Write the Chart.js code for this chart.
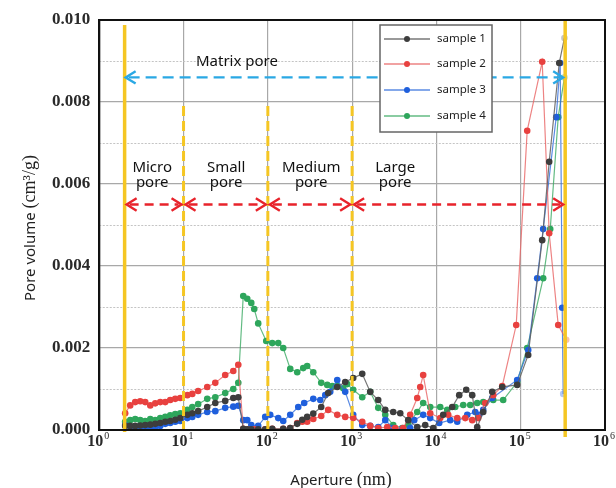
<!DOCTYPE html>
<html>
<head>
<meta charset="utf-8">
<script src="https://cdn.jsdelivr.net/npm/chart.js@4.4.0/dist/chart.umd.min.js"></script>
<style>
  html, body { margin: 0; padding: 0; background: #fff; }
  #wrap { width: 616px; height: 488px; }
</style>
</head>
<body>
<div id="wrap"><canvas id="poreChart" width="616" height="488"></canvas></div>
<script>
// aperture (nm), pore volume (cm3/g)
const sample1 = [[2.03,0.0001],[2.33,0.0001],[2.67,0.0001],[3.06,0.00011],[3.51,0.00012],[4.03,0.00013],[4.62,0.00015],[5.29,0.00017],[6.07,0.0002],[6.95,0.00022],[7.97,0.00025],[9.14,0.00029],[11.1,0.00037],[12.7,0.00041],[14.9,0.00046],[19.1,0.00056],[23.8,0.00066],[31.2,0.00071],[38.9,0.00078],[44.6,0.0008],[51.1,0.00003],[57,0.00002],[63.6,0.00002],[76.9,0.00002],[93.1,0.00002],[112.8,0.00003],[152.3,0.00003],[184.4,0.00005],[223,0.00015],[256,0.00025],[293,0.00032],[346,0.0004],[430,0.00056],[520,0.0009],[666,0.00105],[828,0.00117],[1030,0.00127],[1318,0.00137],[1640,0.00093],[2040,0.00073],[2472,0.00049],[3073,0.00044],[3722,0.00041],[4628,0.00024],[5920,0.00007],[7364,0.00012],[9160,0.00005],[12040,0.00037],[15390,0.00056],[18640,0.00085],[22590,0.00098],[26610,0.00085],[30490,0.00007],[35920,0.00044],[45920,0.00093],[60390,0.00105],[90800,0.0011],[122700,0.00183],[179900,0.00463],[217800,0.00654],[286400,0.00895],[330000,0.00956]];
const sample2 = [[2.03,0.00041],[2.33,0.0006],[2.67,0.00068],[3.06,0.0007],[3.51,0.00068],[4.03,0.0006],[4.62,0.00065],[5.29,0.00068],[6.07,0.00068],[6.95,0.00073],[7.97,0.00076],[9.14,0.00078],[11.1,0.00085],[12.7,0.00088],[14.9,0.00095],[19.1,0.00105],[23.8,0.00115],[31.2,0.00134],[38.9,0.00144],[44.6,0.00159],[51.1,0.00003],[57,0.00002],[69,0.00002],[93,0.00002],[112.8,0.00003],[152,0.00003],[184,0.00005],[223,0.00017],[256,0.0002],[293,0.0002],[346,0.00027],[430,0.00034],[520,0.00049],[666,0.00037],[828,0.00032],[1030,0.00029],[1318,0.0002],[1640,0.0001],[2040,0.00005],[2608,0.00007],[3245,0.00005],[4035,0.00005],[4885,0.00037],[5920,0.00078],[6426,0.00105],[6968,0.00134],[8441,0.00041],[11090,0.00029],[13800,0.00037],[17660,0.00029],[21980,0.00029],[26610,0.00024],[31340,0.00029],[37940,0.00066],[47200,0.00085],[60390,0.00107],[88460,0.00256],[119400,0.0073],[179900,0.00898],[217800,0.0048],[278600,0.00256],[346700,0.0022]];
const sample3 = [[2.03,0.00012],[2.33,0.00008],[2.67,0.00006],[3.06,0.00005],[3.51,0.00005],[4.03,0.00006],[4.62,0.00008],[5.29,0.0001],[6.07,0.00015],[6.95,0.00017],[7.97,0.0002],[9.14,0.00022],[11.1,0.00029],[12.7,0.00032],[14.9,0.00037],[19.1,0.00044],[23.8,0.00046],[31.2,0.00054],[38.9,0.00057],[44.6,0.00059],[51.1,0.00024],[57,0.00024],[63.6,0.00012],[76.9,0.0001],[93.1,0.00032],[106.7,0.00037],[132.9,0.00029],[152.3,0.00022],[184.4,0.00037],[229.5,0.00056],[270,0.00066],[346,0.00076],[419,0.00073],[480,0.00085],[550,0.00093],[666,0.00122],[828,0.00093],[1030,0.00037],[1318,0.00012],[1640,0.0001],[2040,0.00007],[2472,0.00024],[3073,0.00005],[3930,0.00003],[4885,0.00005],[5452,0.00024],[6968,0.00037],[8441,0.00029],[10790,0.00017],[14590,0.00024],[17660,0.0002],[23220,0.00037],[28860,0.00044],[32200,0.00037],[35920,0.00049],[45920,0.00078],[90800,0.00122],[122700,0.00195],[156900,0.0037],[184800,0.0049],[263700,0.00763],[294300,0.00895],[310600,0.00298],[319300,0.00088]];
const sample4 = [[2.03,0.0002],[2.33,0.00024],[2.67,0.00027],[3.06,0.00024],[3.51,0.00022],[4.03,0.00027],[4.62,0.00024],[5.29,0.00029],[6.07,0.00032],[6.95,0.00036],[7.97,0.00039],[9.14,0.00041],[11.1,0.00049],[12.7,0.00056],[14.9,0.00063],[19.1,0.00076],[23.8,0.0008],[31.2,0.0009],[38.9,0.001],[44.6,0.00115],[51.1,0.00327],[57,0.0032],[63.6,0.0031],[69,0.00295],[76.9,0.0026],[95.7,0.00217],[112.8,0.00212],[132.9,0.00212],[152.3,0.002],[184.4,0.00149],[223.3,0.00141],[263,0.00151],[293,0.00156],[346,0.00141],[430,0.00115],[507,0.0011],[581,0.00107],[666,0.00107],[784,0.00102],[875,0.00112],[1030,0.00098],[1318,0.0008],[1640,0.00093],[2040,0.00054],[2472,0.00037],[3073,0.00012],[3930,0.00005],[4628,0.00012],[5920,0.00044],[6968,0.00066],[8441,0.00056],[11090,0.00056],[13430,0.00049],[16710,0.00056],[20800,0.00061],[25190,0.00061],[30490,0.00066],[35920,0.00068],[47200,0.00073],[61970,0.00073],[90800,0.00117],[119400,0.002],[184800,0.0037],[224000,0.0049],[278600,0.00763],[330000,0.0086]];

const seriesNames = ['sample 1', 'sample 2', 'sample 3', 'sample 4'];
const xDecades = [1, 10, 100, 1000, 10000, 100000, 1000000];
const xPowers = ['0', '1', '2', '3', '4', '5', '6'];
const yMinor = [0.001, 0.003, 0.005, 0.007, 0.009];

// pore classification boundaries (nm) and labels
const poreBounds = [2, 10, 100, 1000, 337000];
const regionNames = [['Micro', 'pore'], ['Small', 'pore'], ['Medium', 'pore'], ['Large', 'pore']];
const regionCenters = [4.25, 32, 327, 3240];
const regionTextY = [0.00629, 0.00593];
const matrixLabel = ['Matrix pore', 43, 0.00888];
const matrixArrowY = 0.0086;
const classArrowY = 0.0055;
const dashTop = 0.0079;

const markerColors = ['#3d3d3d', '#e8413f', '#1f5fdc', '#2ea65c'];
const lineColors = ['rgba(95,95,95,0.85)', 'rgba(232,100,100,0.8)', 'rgba(50,110,220,0.8)', 'rgba(60,170,100,0.8)'];
const fadedColors = ['rgba(90,90,90,0.35)', 'rgba(240,120,60,0.45)', 'rgba(40,100,220,0.35)', 'rgba(60,160,90,0.35)'];

const YELLOW = '#f5c623';

function toPoints(arr) {
    return arr.map(p => ({ x: p[0], y: p[1] }));
}

function drawChevron(ctx, x, y, dir, size) {
    ctx.beginPath();
    ctx.moveTo(x - dir * size, y - size * 0.62);
    ctx.lineTo(x, y);
    ctx.lineTo(x - dir * size, y + size * 0.62);
    ctx.stroke();
}

function drawArrow(ctx, x1, x2, y, color, dash) {
    ctx.save();
    ctx.strokeStyle = color;
    ctx.lineWidth = 2.4;
    ctx.setLineDash(dash);
    ctx.beginPath();
    ctx.moveTo(x1 + 3, y);
    ctx.lineTo(x2 - 3, y);
    ctx.stroke();
    ctx.setLineDash([]);
    drawChevron(ctx, x1, y, -1, 10);
    drawChevron(ctx, x2, y, 1, 10);
    ctx.restore();
}

const minorGrid = {
    id: 'minorGrid',
    beforeDatasetsDraw(chart) {
        const { ctx, chartArea, scales } = chart;
        ctx.save();
        ctx.strokeStyle = '#c4c4c4';
        ctx.lineWidth = 1.2;
        ctx.setLineDash([2, 1.5]);
        yMinor.forEach(v => {
            const py = Math.round(scales.y.getPixelForValue(v)) + 0.5;
            ctx.beginPath();
            ctx.moveTo(chartArea.left, py);
            ctx.lineTo(chartArea.right, py);
            ctx.stroke();
        });
        ctx.restore();
    }
};

const poreMarks = {
    id: 'poreMarks',
    afterDatasetsDraw(chart) {
        const { ctx, chartArea, scales } = chart;
        const x = scales.x, y = scales.y;
        const bx = poreBounds.map(v => x.getPixelForValue(v));
        ctx.save();

        // boundaries
        ctx.strokeStyle = YELLOW;
        ctx.lineWidth = 3.5;
        [0, 4].forEach(i => {
            ctx.beginPath();
            ctx.moveTo(bx[i], i === 0 ? chartArea.top + 5 : chartArea.top);
            ctx.lineTo(bx[i], i === 0 ? chartArea.bottom + 2 : chartArea.bottom + 7);
            ctx.stroke();
        });
        ctx.lineWidth = 3;
        ctx.setLineDash([10, 5]);
        [1, 2, 3].forEach(i => {
            ctx.beginPath();
            ctx.moveTo(bx[i], y.getPixelForValue(dashTop));
            ctx.lineTo(bx[i], chartArea.bottom);
            ctx.stroke();
        });
        ctx.setLineDash([]);

        // arrows
        drawArrow(ctx, bx[0] + 1, bx[4] - 2, y.getPixelForValue(matrixArrowY), '#2aa8e4', [11, 6]);
        const ry = y.getPixelForValue(classArrowY);
        for (let i = 0; i < 4; i++) {
            drawArrow(ctx, bx[i] + 2, bx[i + 1] - 2, ry, '#e8232b', [9, 6]);
        }

        // labels
        ctx.fillStyle = '#111';
        ctx.font = '15px "Noto Sans"';
        ctx.textAlign = 'center';
        ctx.textBaseline = 'alphabetic';
        ctx.fillText(matrixLabel[0], x.getPixelForValue(matrixLabel[1]), y.getPixelForValue(matrixLabel[2]));
        regionNames.forEach((lines, i) => {
            const cx = x.getPixelForValue(regionCenters[i]);
            lines.forEach((t, j) => ctx.fillText(t, cx, y.getPixelForValue(regionTextY[j])));
        });

        // frame
        ctx.strokeStyle = '#111';
        ctx.lineWidth = 2;
        ctx.strokeRect(chartArea.left, chartArea.top, chartArea.right - chartArea.left, chartArea.bottom - chartArea.top);
        ctx.restore();
    }
};

const axisText = {
    id: 'axisText',
    afterDraw(chart) {
        const { ctx, chartArea, scales } = chart;
        ctx.save();
        ctx.fillStyle = '#2a2a2a';
        ctx.textBaseline = 'alphabetic';
        ctx.textAlign = 'left';

        // x tick labels 10^n
        xDecades.forEach((v, i) => {
            const px = scales.x.getPixelForValue(v);
            ctx.font = 'bold 16px "Liberation Serif"';
            ctx.fillText('10', px - 12, chartArea.bottom + 16);
            ctx.font = '10px "Liberation Serif"';
            ctx.fillText(xPowers[i], px + 5, chartArea.bottom + 9);
        });

        // x title
        ctx.fillStyle = '#222';
        ctx.font = '15px "Noto Sans"';
        const a = 'Aperture ';
        const wa = ctx.measureText(a).width;
        ctx.font = '18px "Liberation Serif"';
        const b = '(nm)';
        const wb = ctx.measureText(b).width;
        let sx = 341 - (wa + wb) / 2;
        ctx.font = '15px "Noto Sans"';
        ctx.fillText(a, sx, 485);
        ctx.font = '18px "Liberation Serif"';
        ctx.fillText(b, sx + wa, 485);

        // y title
        ctx.translate(35, 228);
        ctx.rotate(-Math.PI / 2);
        ctx.font = '15px "Noto Sans"';
        const c = 'Pore volume ';
        const wc = ctx.measureText(c).width;
        ctx.font = '18px "Liberation Serif"';
        const d = '(cm³/g)';
        const wd = ctx.measureText(d).width;
        sx = -(wc + wd) / 2;
        ctx.font = '15px "Noto Sans"';
        ctx.fillText(c, sx, 0);
        ctx.font = '18px "Liberation Serif"';
        ctx.fillText(d, sx + wc, 0);
        ctx.restore();

        // legend
        ctx.save();
        ctx.fillStyle = '#fff';
        ctx.fillRect(380, 25, 112, 107);
        ctx.strokeStyle = '#666';
        ctx.lineWidth = 1.5;
        ctx.strokeRect(380, 25, 112, 107);
        const rows = [39, 64, 90, 116];
        ctx.font = '11.5px "Noto Sans"';
        ctx.textBaseline = 'middle';
        seriesNames.forEach((name, i) => {
            ctx.strokeStyle = lineColors[i];
            ctx.lineWidth = 1.3;
            ctx.beginPath();
            ctx.moveTo(384, rows[i]);
            ctx.lineTo(430, rows[i]);
            ctx.stroke();
            ctx.fillStyle = markerColors[i];
            ctx.beginPath();
            ctx.arc(407, rows[i], 3, 0, Math.PI * 2);
            ctx.fill();
            ctx.fillStyle = '#222';
            ctx.fillText(name, 437, rows[i]);
        });
        ctx.restore();
    }
};

const allSamples = [sample1, sample2, sample3, sample4];

new Chart(document.getElementById('poreChart').getContext('2d'), {
    type: 'line',
    data: {
        datasets: allSamples.map((s, i) => ({
            label: seriesNames[i],
            data: toPoints(s),
            borderColor: lineColors[i],
            borderWidth: 1.2,
            pointRadius: 3.3,
            pointBorderWidth: 0,
            pointBackgroundColor: c => c.dataIndex === s.length - 1 ? fadedColors[i] : markerColors[i],
            tension: 0,
            fill: false
        }))
    },
    options: {
        responsive: false,
        animation: false,
        devicePixelRatio: 1,
        layout: { padding: { left: 43, right: 11, top: 20, bottom: 58 } },
        plugins: {
            legend: { display: false },
            tooltip: { enabled: false }
        },
        scales: {
            x: {
                type: 'logarithmic',
                min: 1,
                max: 1000000,
                afterBuildTicks: axis => { axis.ticks = xDecades.map(v => ({ value: v })); },
                ticks: { display: false },
                grid: { color: '#a8a8a8', lineWidth: 1.2, drawTicks: false },
                border: { color: '#111', width: 2 }
            },
            y: {
                min: 0,
                max: 0.01,
                ticks: {
                    stepSize: 0.002,
                    padding: 9,
                    color: '#2a2a2a',
                    font: { family: 'Liberation Serif', size: 17, weight: 'bold' },
                    callback: v => v.toFixed(3)
                },
                grid: { color: '#a8a8a8', lineWidth: 1.2, drawTicks: false },
                border: { color: '#111', width: 2 }
            }
        }
    },
    plugins: [minorGrid, poreMarks, axisText]
});
</script>
</body>
</html>
